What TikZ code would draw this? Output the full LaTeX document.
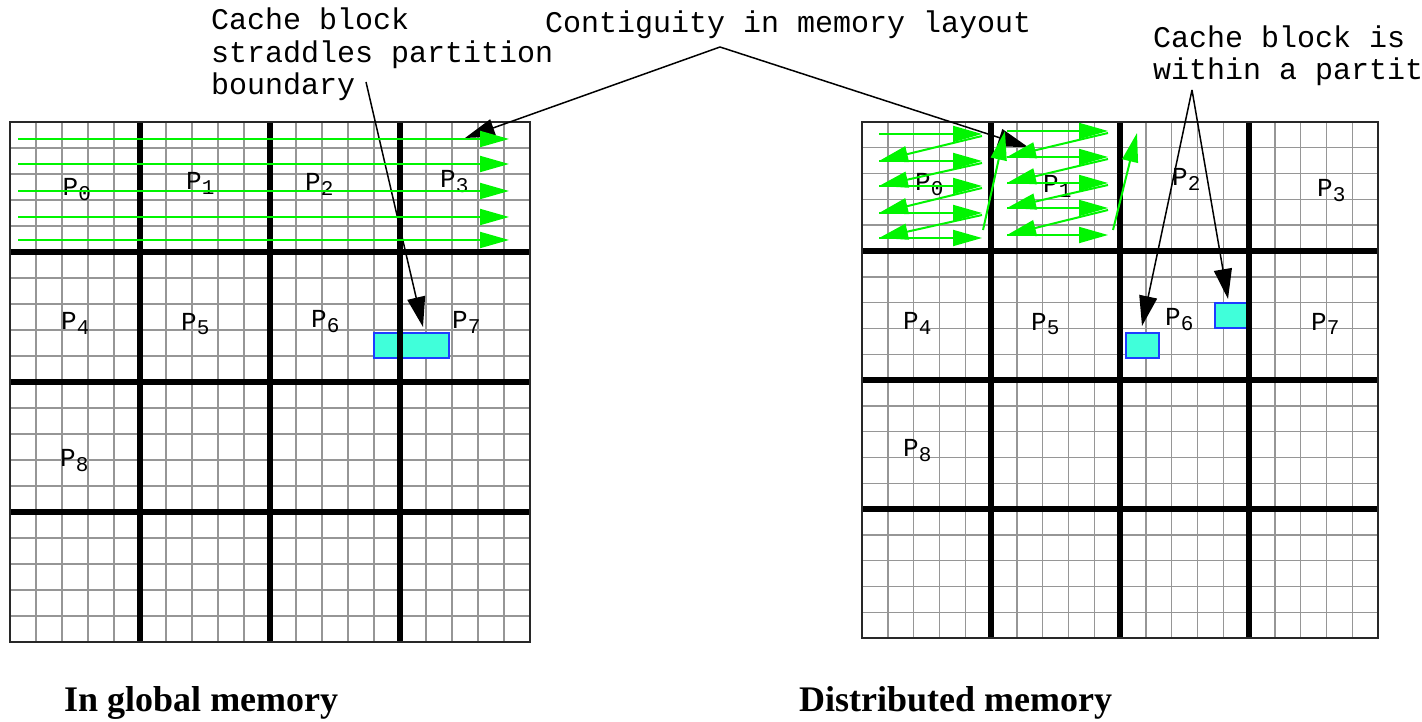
\documentclass[tikz,border=0pt]{standalone}
\usepackage{fontspec}
\setmainfont{Liberation Serif}
\newfontfamily\monofont{Liberation Mono}
\usetikzlibrary{arrows.meta}
\definecolor{gridgray}{RGB}{150,150,150}
\definecolor{bordergray}{RGB}{40,40,40}
\definecolor{arrowgreen}{RGB}{0,245,0}
\definecolor{cachefill}{RGB}{64,255,218}
\definecolor{cacheedge}{RGB}{30,60,255}
\newcommand{\plab}[1]{P\raisebox{-5pt}{\fontsize{21}{21}\selectfont #1}}
\tikzset{
  thinln/.style={draw=gridgray, line width=1.4pt},
  partln/.style={draw=black, line width=6pt},
  frameln/.style={draw=bordergray, line width=2pt},
  greenarr/.style={draw=arrowgreen, line width=2pt, -{Triangle[length=29pt,width=16pt]}},
  blackarr/.style={draw=black, line width=1.5pt, -{Triangle[length=30pt,width=18pt]}},
  cacheblk/.style={fill=cachefill, draw=cacheedge, line width=1.5pt, inner sep=0pt, anchor=north west},
  plabel/.style={font=\monofont\fontsize{26}{26}\selectfont, inner sep=0pt, anchor=base west},
  annot/.style={font=\monofont\fontsize{30}{32.5}\selectfont, inner sep=0pt, anchor=base west, align=left},
  caption/.style={font=\bfseries\fontsize{36}{40}\selectfont, inner sep=0pt, anchor=base west},
}
\begin{document}
\begin{tikzpicture}[x=1pt,y=-1pt]
\path[use as bounding box] (0,0) rectangle (1422,722);
\clip (0,0) rectangle (1422,722);
% ---------- left grid ----------
\foreach \i in {1,...,19} {
  \draw[thinln] (10+26*\i,122) -- (10+26*\i,642);
  \draw[thinln] (10,122+26*\i) -- (530,122+26*\i);
}
% ---------- right grid ----------
\foreach \i in {1,...,19} {
  \draw[thinln] (862+25.8*\i,122) -- (862+25.8*\i,638);
  \draw[thinln] (862,122+25.8*\i) -- (1378,122+25.8*\i);
}
% ---------- cache blocks ----------
\node[cacheblk, minimum width=75pt, minimum height=25pt] (cbL) at (373,332) {};
\node[cacheblk, minimum width=33pt, minimum height=25pt] (cbRa) at (1125,332) {};
\node[cacheblk, minimum width=34pt, minimum height=25pt] (cbRb) at (1214,302) {};
% ---------- partition lines and frames ----------
\foreach \i in {1,2,3} {
  \draw[partln] (10+130*\i,122) -- (10+130*\i,642);
  \draw[partln] (10,122+130*\i) -- (530,122+130*\i);
  \draw[partln] (862+129*\i,122) -- (862+129*\i,638);
  \draw[partln] (862,122+129*\i) -- (1378,122+129*\i);
}
\draw[frameln] (10,122) rectangle (530,642);
\draw[frameln] (862,122) rectangle (1378,638);
% ---------- partition labels ----------
\node[plabel] (lP0) at (62.5,196) {\plab{0}};
\node[plabel] (lP1) at (186,190) {\plab{1}};
\node[plabel] (lP2) at (305,191) {\plab{2}};
\node[plabel] (lP3) at (440,188) {\plab{3}};
\node[plabel] (lP4) at (61,329) {\plab{4}};
\node[plabel] (lP5) at (181,330) {\plab{5}};
\node[plabel] (lP6) at (311,327) {\plab{6}};
\node[plabel] (lP7) at (452,328) {\plab{7}};
\node[plabel] (lP8) at (60,466) {\plab{8}};
\node[plabel] (rP0) at (915,191) {\plab{0}};
\node[plabel] (rP1) at (1043,193) {\plab{1}};
\node[plabel] (rP2) at (1172,186) {\plab{2}};
\node[plabel] (rP3) at (1317,197) {\plab{3}};
\node[plabel] (rP4) at (903,329) {\plab{4}};
\node[plabel] (rP5) at (1031,330) {\plab{5}};
\node[plabel] (rP6) at (1165,325) {\plab{6}};
\node[plabel] (rP7) at (1311,330) {\plab{7}};
\node[plabel] (rP8) at (903,456) {\plab{8}};
% ---------- annotations ----------
\node[annot] (straddle) at (211,95) {Cache block\\straddles partition\\boundary};
\node[annot] (contig) at (545,33) {Contiguity in memory layout};
\node[annot] (within) at (1153,80) {Cache block is\\within a partit};
\coordinate (strA) at (366,82);
\coordinate (strTip) at (423,327);
\coordinate (conApex) at (720,47);
\coordinate (conTipL) at (465,138);
\coordinate (conTipR) at (1028,147);
\coordinate (witApex) at (1192,90);
\coordinate (witTipA) at (1142,326);
\coordinate (witTipB) at (1228,299);
\draw[blackarr] (strA) -- (strTip);
\draw[blackarr] (conApex) -- (conTipL);
\draw[blackarr] (conApex) -- (conTipR);
\draw[blackarr] (witApex) -- (witTipA);
\draw[blackarr] (witApex) -- (witTipB);
% ---------- green arrows, global memory ----------
\foreach \y in {139,164,191,217,240}
  \draw[greenarr] (18,\y) -- (509,\y);
% ---------- green arrows, distributed memory ----------
\foreach \y in {134,161,186,213,238}
  \draw[greenarr] (879,\y) -- (982,\y);
\foreach \ya/\yb in {134/161,161/186,186/213,213/238}
  \draw[greenarr] (982,\ya+2) -- (879,\yb);
\draw[greenarr] (983,230) -- (1005,131);
\foreach \y in {131,157,183,208,235}
  \draw[greenarr] (1007,\y) -- (1108,\y);
\foreach \ya/\yb in {131/157,157/183,183/208,208/235}
  \draw[greenarr] (1108,\ya+2) -- (1007,\yb);
\draw[greenarr] (1113,230) -- (1137,133);
% ---------- captions ----------
\node[caption] (capL) at (64,711) {In global memory};
\node[caption] (capR) at (799,711) {Distributed memory};
\end{tikzpicture}
\end{document}
